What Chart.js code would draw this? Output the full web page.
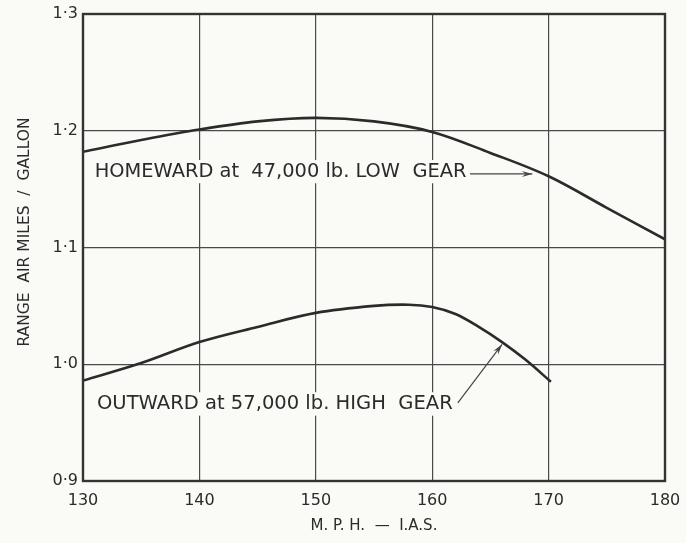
<!DOCTYPE html>
<html><head><meta charset="utf-8">
<script src="https://cdn.jsdelivr.net/npm/chart.js@4/dist/chart.umd.min.js"></script>
<style>html,body{margin:0;padding:0;background:#fafaf6}#wrap{width:686px;height:543px}</style>
</head><body><div id="wrap"><canvas id="c" width="686" height="543"></canvas></div>
<script>
const homewardSpeed = [130,135,140,145,150,155,160,165,170,175,180];
const homewardRange = [1.182,1.192,1.201,1.208,1.211,1.208,1.199,1.181,1.161,1.134,1.107];
const outwardSpeed = [130,135,140,145,150,155,158,160,162,164,166,168,170.2];
const outwardRange = [0.986,1.001,1.019,1.032,1.044,1.050,1.051,1.049,1.043,1.032,1.019,1.004,0.985];
const xTickLabels = ['130','140','150','160','170','180'];
const yTickLabels = ['0·9','1·0','1·1','1·2','1·3'];
const homewardLabel = 'HOMEWARD at  47,000 lb. LOW  GEAR';
const outwardLabel = 'OUTWARD at 57,000 lb. HIGH  GEAR';
const xTitle = 'M. P. H.  —  I.A.S.';
const yTitle = 'RANGE  AIR MILES  /  GALLON';

const INK = '#2b2b2b';
const FONT = '"DejaVu Sans", sans-serif';

function pts(xs, ys){ return xs.map((x,i)=>({x:x, y:ys[i]})); }

const notes = [
  {text: homewardLabel, x: 131.0, y: 1.165, width: 372, arrowFrom:[163.25,1.163], arrowTo:[168.6,1.163]},
  {text: outwardLabel, x: 131.2, y: 0.966, width: 356, arrowFrom:[162.2,0.967], arrowTo:[166.0,1.017]}
];

const annot = {
  id: 'annot',
  beforeDatasetsDraw(chart){
    const ctx = chart.ctx, xs = chart.scales.x, ys = chart.scales.y;
    ctx.save();
    notes.forEach(n=>{
      ctx.font = '16px ' + FONT;
      const w0 = ctx.measureText(n.text).width;
      const size = 16 * n.width / w0;
      ctx.font = size.toFixed(2) + 'px ' + FONT;
      const px = xs.getPixelForValue(n.x), py = ys.getPixelForValue(n.y);
      ctx.fillStyle = '#fafaf6';
      ctx.fillRect(px-4, py-size*0.6, n.width+8, size*1.2);
      ctx.fillStyle = INK;
      ctx.textBaseline = 'middle';
      ctx.textAlign = 'left';
      ctx.fillText(n.text, px, py);
      const ax = xs.getPixelForValue(n.arrowFrom[0]), ay = ys.getPixelForValue(n.arrowFrom[1]);
      const bx = xs.getPixelForValue(n.arrowTo[0]), by = ys.getPixelForValue(n.arrowTo[1]);
      ctx.strokeStyle = '#444';
      ctx.lineWidth = 1.2;
      ctx.beginPath(); ctx.moveTo(ax,ay); ctx.lineTo(bx,by); ctx.stroke();
      const ang = Math.atan2(by-ay, bx-ax);
      const L = 11, A = 0.28;
      ctx.fillStyle = '#444';
      ctx.beginPath();
      ctx.moveTo(bx,by);
      ctx.lineTo(bx - L*Math.cos(ang-A), by - L*Math.sin(ang-A));
      ctx.lineTo(bx - L*0.6*Math.cos(ang), by - L*0.6*Math.sin(ang));
      ctx.lineTo(bx - L*Math.cos(ang+A), by - L*Math.sin(ang+A));
      ctx.closePath(); ctx.fill();
    });
    ctx.restore();
  },
  afterDraw(chart){
    const ctx = chart.ctx, a = chart.chartArea;
    ctx.save();
    ctx.strokeStyle = '#333';
    ctx.lineWidth = 2.4;
    ctx.strokeRect(a.left, a.top, a.right-a.left, a.bottom-a.top);
    ctx.fillStyle = INK;
    ctx.font = '15px ' + FONT;
    ctx.textAlign = 'center';
    ctx.textBaseline = 'middle';
    ctx.fillText(xTitle, (a.left+a.right)/2, 526);
    ctx.translate(25, 232);
    ctx.rotate(-Math.PI/2);
    ctx.font = '15.5px ' + FONT;
    ctx.fillText(yTitle, 0, 0);
    ctx.restore();
  }
};

new Chart(document.getElementById('c'), {
  type: 'line',
  data: {
    datasets: [
      {label:'Homeward at 47,000 lb. Low Gear', data: pts(homewardSpeed, homewardRange),
       borderColor: INK, borderWidth: 2.6, pointRadius: 0, tension: 0.35, fill:false},
      {label:'Outward at 57,000 lb. High Gear', data: pts(outwardSpeed, outwardRange),
       borderColor: INK, borderWidth: 2.6, pointRadius: 0, tension: 0.35, fill:false}
    ]
  },
  options: {
    responsive: false,
    animation: false,
    devicePixelRatio: 1,
    layout: {padding: {top: 14, right: 21, left: 0, bottom: 0}},
    plugins: {legend: {display:false}, tooltip: {enabled:false}},
    scales: {
      x: {
        type: 'linear', min: 130, max: 180,
        ticks: {stepSize: 10, color: INK, font: {family: FONT, size: 16}, padding: 10,
                callback: (v) => xTickLabels[Math.round((v-130)/10)]},
        grid: {color: '#4a4a4a', lineWidth: 1.2, drawTicks: false},
        border: {display: false},
        afterFit: s => { s.height = 62; s.paddingLeft = 0; s.paddingRight = 0; }
      },
      y: {
        min: 0.9, max: 1.3,
        ticks: {stepSize: 0.1, color: INK, font: {family: FONT, size: 16}, padding: 5,
                callback: (v, i) => yTickLabels[i]},
        grid: {color: '#4a4a4a', lineWidth: 1.2, drawTicks: false},
        border: {display: false},
        afterFit: s => { s.width = 83; s.paddingTop = 0; s.paddingBottom = 0; }
      }
    }
  },
  plugins: [annot]
});
</script></body></html>
